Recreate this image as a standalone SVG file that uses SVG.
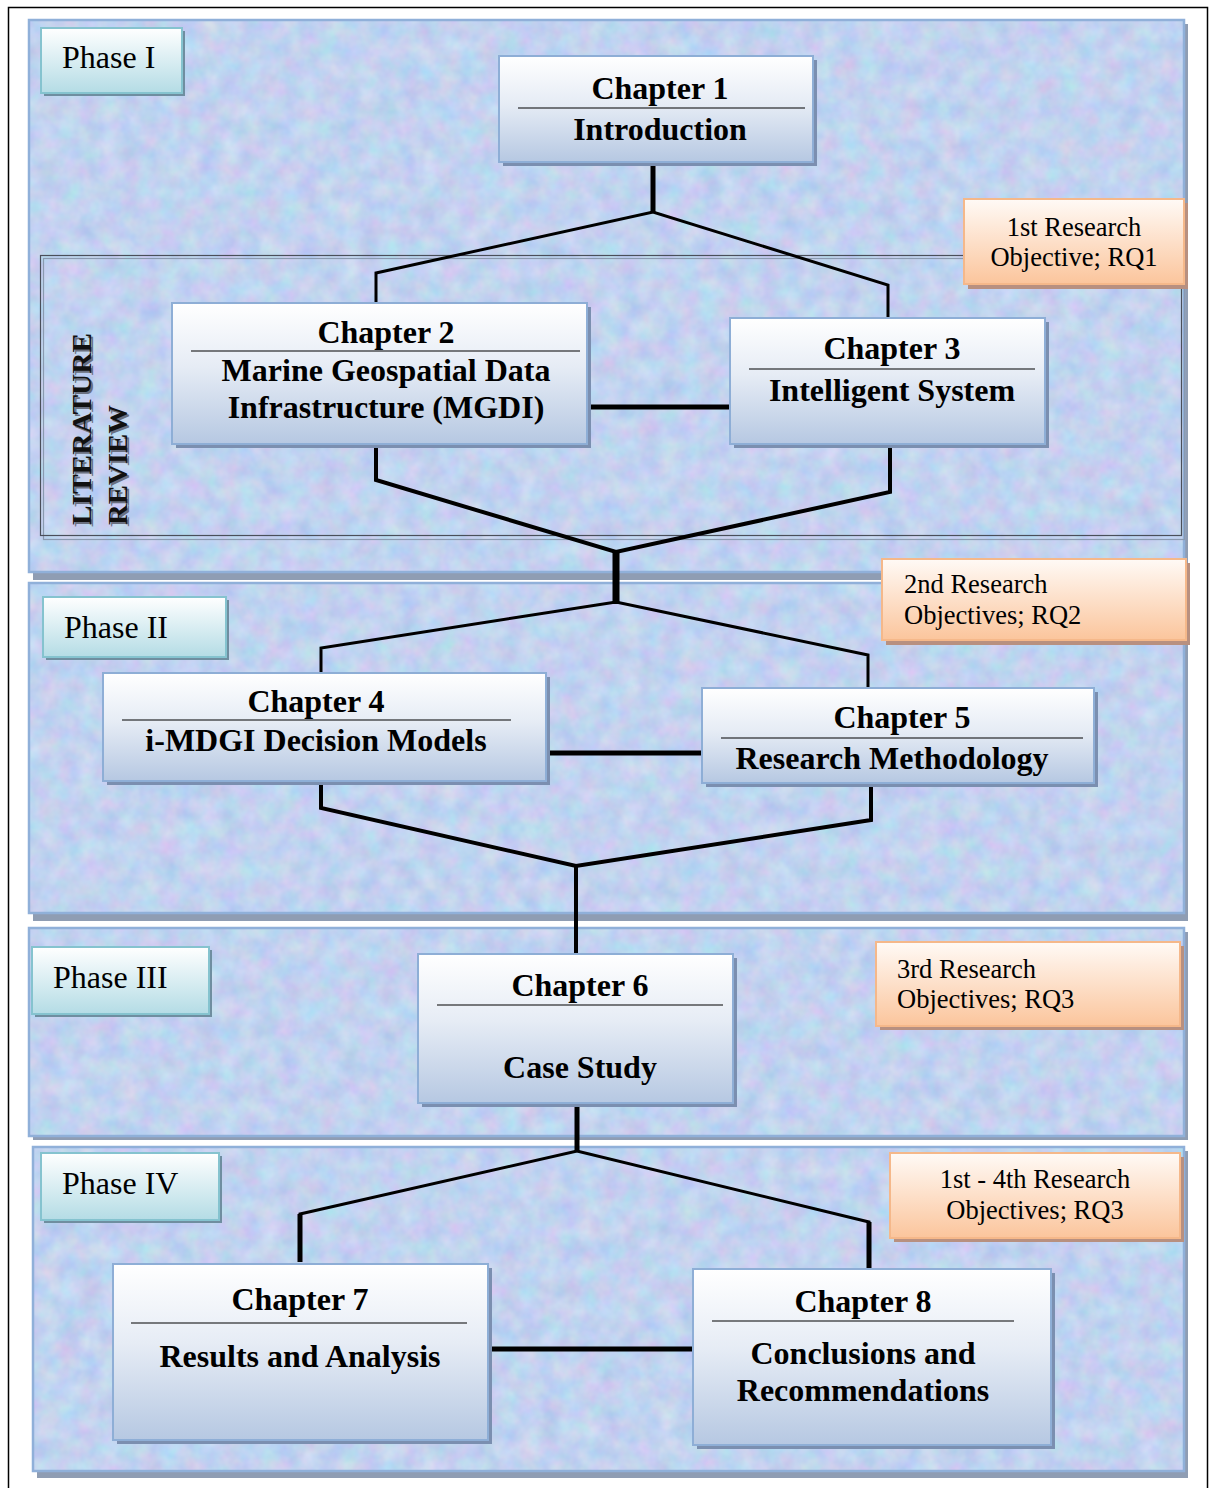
<svg xmlns="http://www.w3.org/2000/svg" width="1214" height="1488" viewBox="0 0 1214 1488">
<defs>
<filter id="mottle" x="0" y="0" width="1" height="1" color-interpolation-filters="sRGB">
<feTurbulence type="fractalNoise" baseFrequency="0.05" numOctaves="3" seed="7" result="n"/>
<feColorMatrix in="n" type="matrix" values="0.22 0 0 0 0.65  0 0.16 0 0 0.745  0 0 0.08 0 0.9  0 0 0 0 1" result="c"/>
<feComposite in="c" in2="SourceGraphic" operator="in"/>
</filter>
<linearGradient id="gChap" x1="0" y1="0" x2="0" y2="1"><stop offset="0" stop-color="#ffffff"/><stop offset="0.45" stop-color="#e6ecf5"/><stop offset="1" stop-color="#b6c8e2"/></linearGradient>
<linearGradient id="gPhase" x1="0" y1="0" x2="0" y2="1"><stop offset="0" stop-color="#ffffff"/><stop offset="1" stop-color="#b4dce5"/></linearGradient>
<linearGradient id="gObj" x1="0" y1="0" x2="0" y2="1"><stop offset="0" stop-color="#fffaf6"/><stop offset="1" stop-color="#fbc59c"/></linearGradient>
</defs>
<style>
.frame{fill:#ffffff;stroke:#000;stroke-width:1.5}
.panel{fill:#c4d4f1;filter:url(#mottle)}
.pborder{fill:none;stroke:#90b0d9;stroke-width:2.5}
.pshadow{fill:#8f9db3}
.chap{fill:url(#gChap);stroke:#8eaed6;stroke-width:2}
.cshadow{fill:#7b8fb0}
.ph{fill:url(#gPhase);stroke:#85c3cf;stroke-width:2}
.phshadow{fill:#6f8ea0}
.obj{fill:url(#gObj);stroke:#f5b88a;stroke-width:2}
.oshadow{fill:#b89080}
.rule{stroke:#000;stroke-width:1.2}
.t{font-family:"Liberation Serif","Times New Roman",serif;fill:#000}
.tb{font-family:"Liberation Serif","Times New Roman",serif;font-weight:bold;font-size:32px;text-anchor:middle;fill:#000}
.tp{font-size:32px}
.to{font-size:26.5px}
.lit{font-family:"Liberation Serif","Times New Roman",serif;font-weight:bold;font-size:28px}
.c{fill:none;stroke:#000;stroke-linejoin:miter}
</style>
<rect class="frame" x="8.5" y="7.5" width="1199" height="1500"/>

<g id="panels">
<rect class="pshadow" x="33" y="24" width="1155" height="556"/>
<rect class="panel" x="29" y="20" width="1155" height="552"/>
<rect class="pborder" x="29" y="20" width="1155" height="552"/>
<rect class="pshadow" x="33" y="587" width="1155" height="334"/>
<rect class="panel" x="29" y="583" width="1155" height="330"/>
<rect class="pborder" x="29" y="583" width="1155" height="330"/>
<rect class="pshadow" x="33" y="932" width="1155" height="208"/>
<rect class="panel" x="29" y="928" width="1155" height="208"/>
<rect class="pborder" x="29" y="928" width="1155" height="208"/>
<rect class="pshadow" x="37" y="1151" width="1151" height="327"/>
<rect class="panel" x="33" y="1147" width="1151" height="324"/>
<rect class="pborder" x="33" y="1147" width="1151" height="324"/>
</g>

<g id="literature-review">
<rect x="43.5" y="258.5" width="1141" height="281" fill="none" stroke="#8a9ab0" stroke-width="1.2"/>
<rect x="40.5" y="255.5" width="1141" height="280" fill="none" stroke="#4a4f5a" stroke-width="1.2"/>
<text class="lit" fill="#6a7080" transform="translate(93,527) rotate(-90)" textLength="192" lengthAdjust="spacingAndGlyphs">LITERATURE</text>
<text class="lit" fill="#111" transform="translate(91,525) rotate(-90)" textLength="192" lengthAdjust="spacingAndGlyphs">LITERATURE</text>
<text class="lit" fill="#6a7080" transform="translate(129,527) rotate(-90)" textLength="120" lengthAdjust="spacingAndGlyphs">REVIEW</text>
<text class="lit" fill="#111" transform="translate(127,525) rotate(-90)" textLength="120" lengthAdjust="spacingAndGlyphs">REVIEW</text>
</g>

<g id="connectors">
<line class="c" x1="653" y1="165" x2="653" y2="213" stroke-width="5"/>
<polyline class="c" points="376,303 376,273 653,212 888,285 888,318" stroke-width="3"/>
<line class="c" x1="587" y1="407" x2="731" y2="407" stroke-width="5"/>
<polyline class="c" points="376,448 376,480 616,552 890,492 890,448" stroke-width="4"/>
<line class="c" x1="616" y1="550" x2="616" y2="604" stroke-width="7"/>
<polyline class="c" points="321,673 321,648 616,602 868,655 868,688" stroke-width="3"/>
<line class="c" x1="548" y1="753" x2="703" y2="753" stroke-width="5"/>
<polyline class="c" points="321,785 321,808 576,866 871,820 871,785" stroke-width="4"/>
<line class="c" x1="576" y1="865" x2="576" y2="955" stroke-width="4"/>
<line class="c" x1="577" y1="1105" x2="577" y2="1152" stroke-width="5"/>
<polyline class="c" points="300,1262 300,1214 577,1151 869,1222 869,1268" stroke-width="3"/>
<line class="c" x1="300" y1="1214" x2="300" y2="1262" stroke-width="5"/>
<line class="c" x1="869" y1="1222" x2="869" y2="1268" stroke-width="5"/>
<line class="c" x1="492" y1="1349" x2="693" y2="1349" stroke-width="5"/>
</g>

<g id="phase-1">
<rect class="phshadow" x="44" y="31" width="141" height="65"/>
<rect class="ph" x="41" y="28" width="141" height="65"/>
<text class="t tp" x="62" y="68">Phase I</text>
</g>
<g id="phase-2">
<rect class="phshadow" x="46" y="600" width="183" height="60"/>
<rect class="ph" x="43" y="597" width="183" height="60"/>
<text class="t tp" x="64" y="638">Phase II</text>
</g>
<g id="phase-3">
<rect class="phshadow" x="35" y="950" width="177" height="67"/>
<rect class="ph" x="32" y="947" width="177" height="67"/>
<text class="t tp" x="53" y="988">Phase III</text>
</g>
<g id="phase-4">
<rect class="phshadow" x="44" y="1156" width="178" height="67"/>
<rect class="ph" x="41" y="1153" width="178" height="67"/>
<text class="t tp" x="62" y="1194">Phase IV</text>
</g>

<g id="objective-1">
<rect class="oshadow" x="968" y="203" width="220" height="86"/>
<rect class="obj" x="964" y="199" width="220" height="85"/>
<text class="t to" x="1074" y="236" text-anchor="middle">1st Research</text>
<text class="t to" x="1074" y="266" text-anchor="middle">Objective; RQ1</text>
</g>
<g id="objective-2">
<rect class="oshadow" x="886" y="563" width="304" height="82"/>
<rect class="obj" x="882" y="559" width="304" height="81"/>
<text class="t to" x="904" y="593">2nd Research</text>
<text class="t to" x="904" y="624">Objectives; RQ2</text>
</g>
<g id="objective-3">
<rect class="oshadow" x="880" y="946" width="304" height="84"/>
<rect class="obj" x="876" y="942" width="304" height="84"/>
<text class="t to" x="897" y="978">3rd Research</text>
<text class="t to" x="897" y="1008">Objectives; RQ3</text>
</g>
<g id="objective-4">
<rect class="oshadow" x="894" y="1157" width="290" height="85"/>
<rect class="obj" x="890" y="1153" width="290" height="85"/>
<text class="t to" x="1035" y="1188" text-anchor="middle">1st - 4th Research</text>
<text class="t to" x="1035" y="1219" text-anchor="middle">Objectives; RQ3</text>
</g>

<g id="chapter-1">
<rect class="cshadow" x="503" y="60" width="314" height="106"/>
<rect class="chap" x="499" y="56" width="314" height="106"/>
<text class="tb" x="660" y="99">Chapter 1</text>
<line class="rule" x1="518" y1="108" x2="805" y2="108"/>
<text class="tb" x="660" y="140">Introduction</text>
</g>
<g id="chapter-2">
<rect class="cshadow" x="176" y="307" width="415" height="141"/>
<rect class="chap" x="172" y="303" width="415" height="141"/>
<text class="tb" x="386" y="343">Chapter 2</text>
<line class="rule" x1="191" y1="351" x2="580" y2="351"/>
<text class="tb" x="386" y="381">Marine Geospatial Data</text>
<text class="tb" x="386" y="418">Infrastructure (MGDI)</text>
</g>
<g id="chapter-3">
<rect class="cshadow" x="734" y="322" width="315" height="126"/>
<rect class="chap" x="730" y="318" width="315" height="126"/>
<text class="tb" x="892" y="359">Chapter 3</text>
<line class="rule" x1="749" y1="369" x2="1035" y2="369"/>
<text class="tb" x="892" y="401">Intelligent System</text>
</g>
<g id="chapter-4">
<rect class="cshadow" x="107" y="677" width="443" height="108"/>
<rect class="chap" x="103" y="673" width="443" height="108"/>
<text class="tb" x="316" y="712">Chapter 4</text>
<line class="rule" x1="122" y1="720" x2="511" y2="720"/>
<text class="tb" x="316" y="751">i-MDGI Decision Models</text>
</g>
<g id="chapter-5">
<rect class="cshadow" x="706" y="692" width="392" height="95"/>
<rect class="chap" x="702" y="688" width="392" height="95"/>
<text class="tb" x="902" y="728">Chapter 5</text>
<line class="rule" x1="721" y1="738" x2="1083" y2="738"/>
<text class="tb" x="892" y="769">Research Methodology</text>
</g>
<g id="chapter-6">
<rect class="cshadow" x="422" y="958" width="315" height="149"/>
<rect class="chap" x="418" y="954" width="315" height="149"/>
<text class="tb" x="580" y="996">Chapter 6</text>
<line class="rule" x1="437" y1="1005" x2="723" y2="1005"/>
<text class="tb" x="580" y="1078">Case Study</text>
</g>
<g id="chapter-7">
<rect class="cshadow" x="117" y="1268" width="375" height="176"/>
<rect class="chap" x="113" y="1264" width="375" height="176"/>
<text class="tb" x="300" y="1310">Chapter 7</text>
<line class="rule" x1="131" y1="1323" x2="467" y2="1323"/>
<text class="tb" x="300" y="1367">Results and Analysis</text>
</g>
<g id="chapter-8">
<rect class="cshadow" x="697" y="1273" width="358" height="176"/>
<rect class="chap" x="693" y="1269" width="358" height="176"/>
<text class="tb" x="863" y="1312">Chapter 8</text>
<line class="rule" x1="712" y1="1321" x2="1014" y2="1321"/>
<text class="tb" x="863" y="1364">Conclusions and</text>
<text class="tb" x="863" y="1401">Recommendations</text>
</g>
</svg>
